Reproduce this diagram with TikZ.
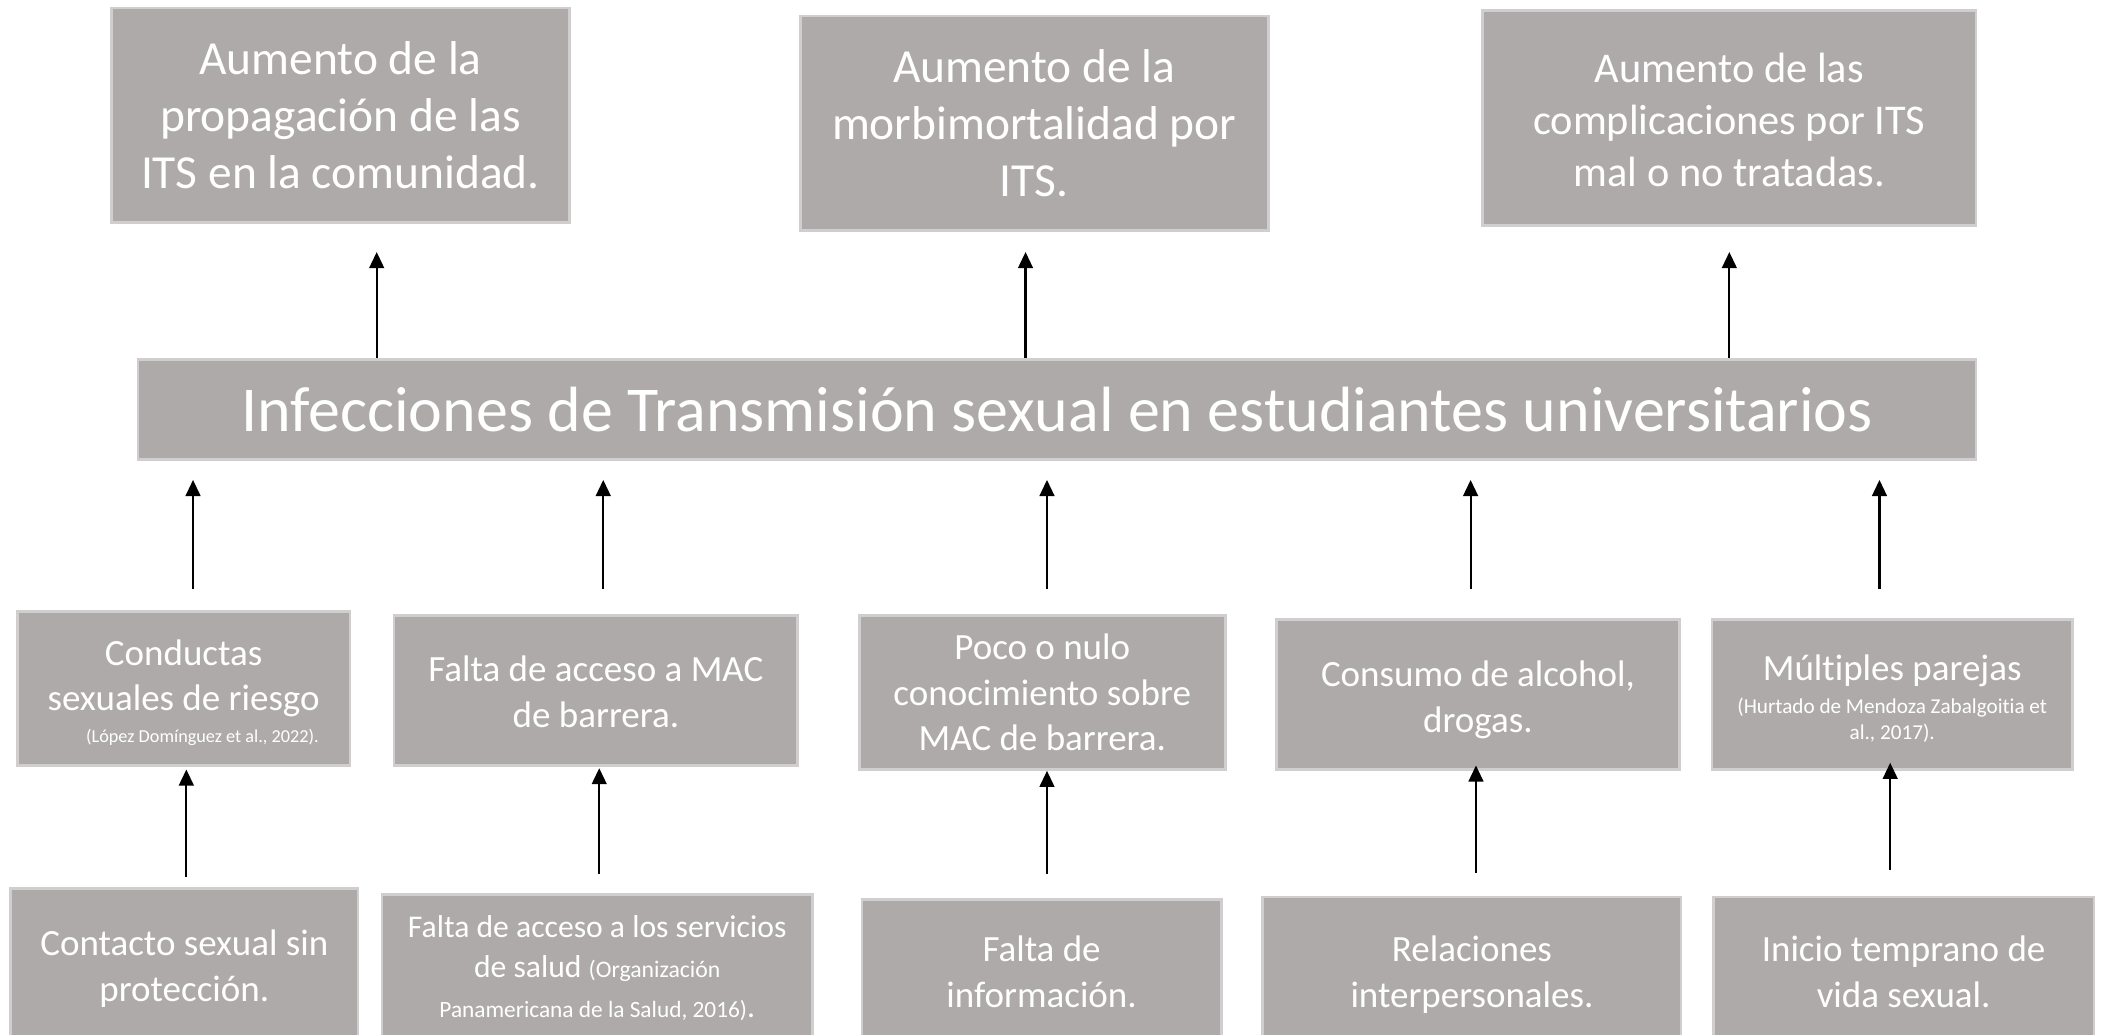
\documentclass[tikz,border=0pt]{standalone}
\usepackage{fontspec}
\setmainfont{Carlito}[Ligatures=NoCommon]
\usetikzlibrary{arrows.meta}
\definecolor{boxfill}{HTML}{AEAAAA}
\definecolor{boxline}{HTML}{D0CECE}
\newcommand{\fs}[2]{\fontsize{#1}{#2}\selectfont}
\newcommand{\lowr}[2]{\raisebox{-#1}[\height][\depth]{#2}}
\tikzset{
  box/.style={rectangle, fill=boxfill, draw=boxline, line width=1pt, text=white, align=center, inner sep=0pt},
  arr/.style={-{Triangle[width=5.5pt,length=6pt]}, line width=0.8pt, draw=black},
  topfont/.style={font=\fs{17.7}{21.3}},
  midfont/.style={font=\fs{13.8}{17}},
}
\begin{document}
\begin{tikzpicture}[x=0.5pt,y=-0.5pt]
\useasboundingbox (0,0) rectangle (1568,772);
\clip (0,0) rectangle (1568,772);
% top row
\node[box, topfont, minimum width=171pt, minimum height=80pt] (t1) at (254,86) {Aumento de la\\propagación de las\\ITS en la comunidad.};
\node[box, topfont, minimum width=174.5pt, minimum height=80pt] (t2) at (771.5,92) {Aumento de la\\morbimortalidad por\\ITS.};
\node[box, font=\fs{15.8}{19.3}, minimum width=184pt, minimum height=80pt] (t3) at (1290,88) {\lowr{0.8pt}{Aumento de las}\\\lowr{0.8pt}{complicaciones por ITS}\\\lowr{0.8pt}{mal o no tratadas.}};
% main
\node[box, font=\fs{23.85}{28}, minimum width=685.5pt, minimum height=37.5pt] (main) at (788.5,305.5) {Infecciones de Transmisión sexual en estudiantes universitarios};
% middle row
\node[box, midfont, minimum width=124pt, minimum height=57.5pt] (m1) at (137,513.5) {\lowr{1.5pt}{Conductas}\\\lowr{1.5pt}{sexuales de riesgo}\\[-5.25pt]\lowr{1.5pt}{\fs{6.8}{8}\hspace*{14pt}(López Domínguez et al., 2022).}};
\node[box, midfont, minimum width=150.5pt, minimum height=56pt] (m2) at (444.5,515) {\lowr{0.5pt}{Falta de acceso a MAC}\\\lowr{0.5pt}{de barrera.}};
\node[box, midfont, minimum width=136.5pt, minimum height=57.5pt] (m3) at (777.5,516.5) {Poco o nulo\\conocimiento sobre\\MAC de barrera.};
\node[box, midfont, minimum width=150.5pt, minimum height=56pt] (m4) at (1102.5,518) {\lowr{2pt}{Consumo de alcohol,}\\\lowr{2pt}{drogas.}};
\node[box, midfont, minimum width=134.5pt, minimum height=56pt] (m5) at (1411.5,518) {\lowr{1.5pt}{Múltiples parejas}\\[-4.5pt]\lowr{1.5pt}{\fs{7.9}{9.5}(Hurtado de Mendoza Zabalgoitia et}\\[-7.5pt]\lowr{1.5pt}{\fs{7.9}{9.5}al., 2017).}};
% bottom row
\node[box, midfont, minimum width=129.5pt, minimum height=57pt] (b1) at (137.5,720) {\lowr{1.2pt}{Contacto sexual sin}\\\lowr{1.2pt}{protección.}};
\node[box, font=\fs{11.8}{15}, minimum width=160.5pt, minimum height=55pt] (b2) at (445.5,722) {Falta de acceso a los servicios\\de salud {\fs{8.85}{15}(Organización}\\{\fs{8.7}{15}Panamericana de la Salud, 2016)}.};
\node[box, midfont, minimum width=134pt, minimum height=54pt] (b3) at (777,725) {Falta de\\información.};
\node[box, midfont, minimum width=156pt, minimum height=56pt] (b4) at (1098,725) {\lowr{1pt}{Relaciones}\\\lowr{1pt}{interpersonales.}};
\node[box, midfont, minimum width=142pt, minimum height=56pt] (b5) at (1420,725) {Inicio temprano de\\vida sexual.};
% arrow x positions
\coordinate (ax1) at (281,0);
\coordinate (ax2) at (765,0);
\coordinate (ax3) at (1290,0);
\coordinate (bx1) at (144,0);
\coordinate (bx2) at (450,0);
\coordinate (bx3) at (781,0);
\coordinate (bx4) at (1097,0);
\coordinate (bx5) at (1402,0);
\coordinate (cx1) at (139,0);
\coordinate (cx2) at (447,0);
\coordinate (cx3) at (781,0);
\coordinate (cx4) at (1101,0);
\coordinate (cx5) at (1410,0);
% main -> top
\draw[arr, shorten >=10.5pt] (main.north -| ax1) -- (t1.south -| ax1);
\draw[arr, shorten >=7.5pt] (main.north -| ax2) -- (t2.south -| ax2);
\draw[arr, shorten >=9.5pt] (main.north -| ax3) -- (t3.south -| ax3);
% middle -> main
\draw[arr, shorten <=8pt, shorten >=7pt] (m1.north -| bx1) -- (main.south -| bx1);
\draw[arr, shorten <=9.5pt, shorten >=7pt] (m2.north -| bx2) -- (main.south -| bx2);
\draw[arr, shorten <=9.5pt, shorten >=7pt] (m3.north -| bx3) -- (main.south -| bx3);
\draw[arr, shorten <=11pt, shorten >=7pt] (m4.north -| bx4) -- (main.south -| bx4);
\draw[arr, shorten <=11pt, shorten >=7pt] (m5.north -| bx5) -- (main.south -| bx5);
% bottom -> middle
\draw[arr, shorten <=4pt, shorten >=1pt] (b1.north -| cx1) -- (m1.south -| cx1);
\draw[arr, shorten <=7pt, shorten >=0.5pt] (b2.north -| cx2) -- (m2.south -| cx2);
\draw[arr, shorten <=9pt] (b3.north -| cx3) -- (m3.south -| cx3);
\draw[arr, shorten <=8.5pt, shorten >=-2pt] (b4.north -| cx4) -- (m4.south -| cx4);
\draw[arr, shorten <=9.5pt, shorten >=-3pt] (b5.north -| cx5) -- (m5.south -| cx5);
\end{tikzpicture}
\end{document}
